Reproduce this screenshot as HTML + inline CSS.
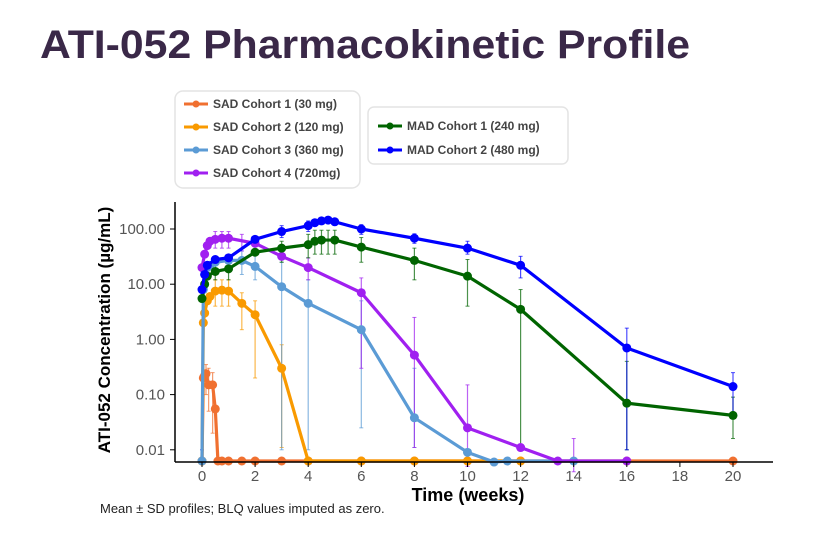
<!DOCTYPE html>
<html><head><meta charset="utf-8"><style>
body{margin:0;background:#fff;width:823px;height:546px;overflow:hidden;font-family:"Liberation Sans",sans-serif}
</style></head><body>
<svg id="s" width="823" height="546" xmlns="http://www.w3.org/2000/svg" font-family="Liberation Sans, sans-serif">
<text x="40" y="58" font-size="40" font-weight="bold" fill="#3a2848" textLength="650" lengthAdjust="spacingAndGlyphs">ATI-052 Pharmacokinetic Profile</text>
<rect x="175" y="91" width="185" height="97" rx="8" fill="#fff" stroke="#e4e4e4" stroke-width="1.5"/>
<rect x="368" y="107" width="200" height="57" rx="6" fill="#fff" stroke="#e4e4e4" stroke-width="1.5"/>
<g font-size="12" font-weight="bold" fill="#444">
<text x="213" y="108">SAD Cohort 1 (30 mg)</text>
<text x="213" y="131">SAD Cohort 2 (120 mg)</text>
<text x="213" y="154">SAD Cohort 3 (360 mg)</text>
<text x="213" y="177">SAD Cohort 4 (720mg)</text>
<text x="407" y="130">MAD Cohort 1 (240 mg)</text>
<text x="407" y="154">MAD Cohort 2 (480 mg)</text>
</g>
<g id="plot"></g>
<line x1="175" y1="202" x2="175" y2="462" stroke="#000" stroke-width="1.5"/>
<line x1="175" y1="462" x2="773" y2="462" stroke="#000" stroke-width="1.5"/>
<g font-size="15" fill="#555" text-anchor="end" id="yt"></g>
<g font-size="15" fill="#555" text-anchor="middle" id="xt"></g>
<text x="468" y="501" font-size="18" font-weight="bold" text-anchor="middle">Time (weeks)</text>
<text transform="translate(110,330) rotate(-90)" font-size="17" font-weight="bold" text-anchor="middle">ATI-052 Concentration (µg/mL)</text>
<text x="100" y="513" font-size="13" fill="#222">Mean ± SD profiles; BLQ values imputed as zero.</text>
</svg>
<script>
var NS="http://www.w3.org/2000/svg";
function X(t){return 202+t*26.55}
function Y(v){return v<=0?461:229-55.2*Math.log10(v/100)}
function el(p,n,a){var e=document.createElementNS(NS,n);for(var k in a)e.setAttribute(k,a[k]);p.appendChild(e);return e}
var yt=document.getElementById('yt'),xt=document.getElementById('xt');
[[100,"100.00"],[10,"10.00"],[1,"1.00"],[0.1,"0.10"],[0.01,"0.01"]].forEach(function(d){
 var y=Y(d[0]);el(yt,'text',{x:165,y:y+5}).textContent=d[1];el(yt,'line',{x1:170,x2:175,y1:y,y2:y,stroke:'#000'});});
for(var t=0;t<=20;t+=2){var x=X(t);el(xt,'text',{x:x,y:481}).textContent=t;el(xt,'line',{x1:x,x2:x,y1:462,y2:467,stroke:'#000'});}
var S=[
{c:"#f07030",d:[[0,0],[0.05,0.2],[0.1,0.22],[0.15,0.24],[0.25,0.15],[0.4,0.15],[0.5,0.055],[0.6,0],[0.75,0],[1,0],[1.5,0],[2,0],[3,0],[4,0],[6,0],[8,0],[10,0],[12,0],[16,0],[20,0]],e:[[0.15,0.1,0.35],[0.25,0.05,0.3],[0.4,0.02,0.25]]},
{c:"#f99a00",d:[[0,0],[0.05,2],[0.1,3],[0.2,5],[0.3,6],[0.5,7.5],[0.75,7.8],[1,7.5],[1.5,4.5],[2,2.8],[3,0.3],[4,0],[6,0],[8,0],[10,0],[12,0]],e:[[0.5,4,12],[0.75,4,12],[1,4,12],[1.5,1.5,7],[2,0.2,5],[3,0.011,0.8]]},
{c:"#5b9bd5",d:[[0,0],[0.05,8],[0.1,15],[0.2,20],[0.3,22],[0.5,25],[1,27],[1.5,27],[2,21],[3,9],[4,4.5],[6,1.5],[8,0.038],[10,0.009],[11,0.006],[11.5,0],[14,0]],e:[[1.5,15,40],[2,12,35],[3,0.01,25],[4,0.01,12],[6,0.025,5],[8,0.011,0.3]]},
{c:"#a020f0",d:[[0,20],[0.1,35],[0.2,50],[0.3,60],[0.5,65],[0.75,68],[1,68],[2,55],[3,32],[4,20],[6,7],[8,0.52],[10,0.025],[12,0.011],[13.4,0],[16,0]],e:[[0.5,45,90],[0.75,45,90],[1,45,90],[1.5,40,80],[4,12,30],[6,0.3,13],[8,0.011,2.5],[10,0.005,0.15],[14,0.004,0.016]]},
{c:"#006400",d:[[0,5.5],[0.1,10],[0.2,14],[0.5,17],[1,19],[2,38],[3,45],[4,52],[4.25,60],[4.5,63],[5,63],[6,47],[8,27],[10,14],[12,3.5],[16,0.07],[20,0.042]],e:[[0.5,12,25],[1,12,25],[3,25,60],[4,30,80],[4.25,35,95],[4.5,35,95],[4.75,35,95],[5,35,95],[6,25,70],[8,12,45],[10,4,28],[12,0.01,8],[16,0.01,0.4],[20,0.016,0.09]]},
{c:"#0000ff",d:[[0,8],[0.1,15],[0.2,22],[0.5,28],[1,30],[2,65],[3,90],[4,115],[4.25,130],[4.5,140],[4.75,145],[5,135],[6,100],[8,68],[10,45],[12,22],[16,0.7],[20,0.14]],e:[[0,0,0.01],[3,70,115],[4,90,140],[6,80,120],[8,55,82],[10,35,60],[12,13,32],[16,0.01,1.6],[20,0.04,0.25]]}
];
var g=document.getElementById('plot');
S.forEach(function(s){
 s.e.forEach(function(e){var x=X(e[0]),a=Y(e[1]),b=Y(e[2]);
  el(g,'line',{x1:x,x2:x,y1:a,y2:b,stroke:s.c,'stroke-width':1.2,opacity:0.7});
  el(g,'line',{x1:x-2,x2:x+2,y1:a,y2:a,stroke:s.c,opacity:0.7});
  el(g,'line',{x1:x-2,x2:x+2,y1:b,y2:b,stroke:s.c,opacity:0.7});});
});
S.forEach(function(s){
 el(g,'polyline',{points:s.d.map(function(p){return X(p[0])+','+Y(p[1])}).join(' '),fill:'none',stroke:s.c,'stroke-width':3.2,'stroke-linejoin':'round'});
 s.d.forEach(function(p){el(g,'circle',{cx:X(p[0]),cy:Y(p[1]),r:4.5,fill:s.c});});
});
// legend keys
[["#f07030",104,184],["#f99a00",127,184],["#5b9bd5",150,184],["#a020f0",173,184],["#006400",126,378],["#0000ff",150,378]].forEach(function(k){
 el(document.getElementById('s'),'line',{x1:k[2],x2:k[2]+24,y1:k[1],y2:k[1],stroke:k[0],'stroke-width':3});
 el(document.getElementById('s'),'circle',{cx:k[2]+12,cy:k[1],r:3.5,fill:k[0]});
});
</script>
</body></html>
